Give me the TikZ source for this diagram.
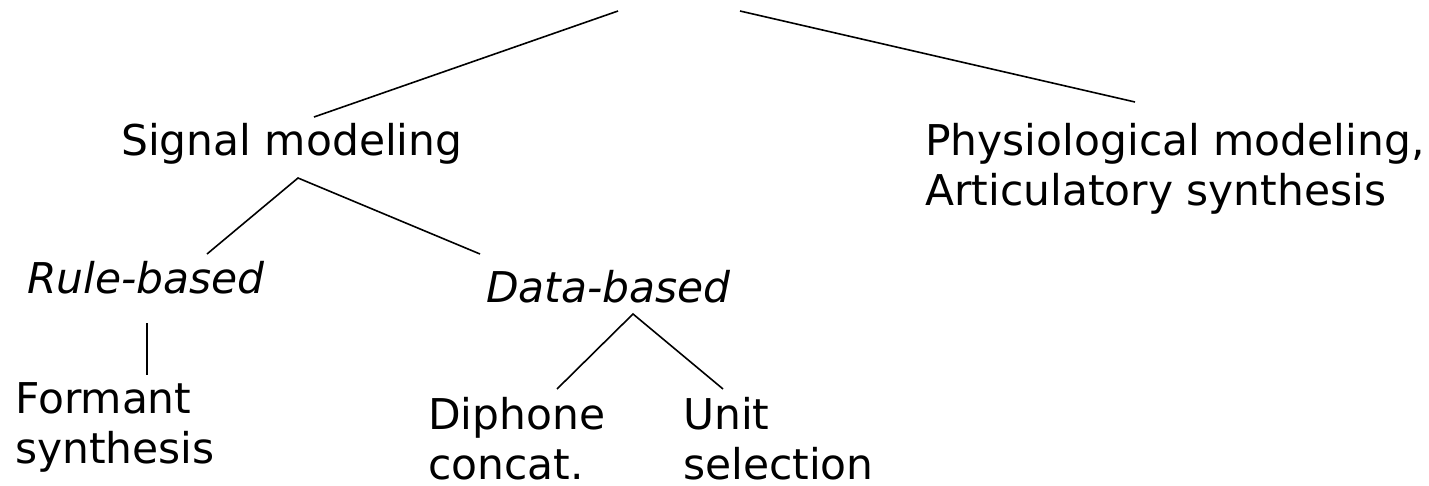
\documentclass[tikz,border=0pt]{standalone}
\usepackage{fontspec}
\setmainfont{DejaVu Sans}
\begin{document}
\begin{tikzpicture}[x=1pt,y=-1pt,
  lbl/.style={inner sep=0pt,anchor=base west,align=left,font=\fontsize{42.4}{50}\selectfont},
  ilbl/.style={lbl,font=\fontsize{42.4}{50}\selectfont\itshape},
  edge/.style={line width=1.6pt,black}]
\useasboundingbox (0,0) rectangle (1429,485);
\node[lbl] (sig) at (121,155) {Signal modeling};
\node[lbl] (phys) at (925,205) {Physiological modeling,\\Articulatory synthesis};
\node[ilbl] (rule) at (27,293) {Rule-based};
\node[ilbl] (data) at (486,302) {Data-based};
\node[lbl] (form) at (15,463) {Formant\\synthesis};
\node[lbl] (diph) at (428,479) {Diphone\\concat.};
\node[lbl] (unit) at (683,479) {Unit\\selection};
\coordinate (rootL) at (618,11);
\coordinate (rootR) at (740,11);
\coordinate (sigTop) at (314,117);
\coordinate (physTop) at (1135,102);
\coordinate (sigBot) at (298,178);
\coordinate (ruleTop) at (207,254);
\coordinate (dataTop) at (480,254);
\coordinate (ruleBot) at (147,323);
\coordinate (formTop) at (147,375);
\coordinate (dataBot) at (633,314);
\coordinate (diphTop) at (557,389);
\coordinate (unitTop) at (723,389);
\draw[edge] (rootL) -- (sigTop);
\draw[edge] (rootR) -- (physTop);
\draw[edge] (ruleTop) -- (sigBot) -- (dataTop);
\draw[edge] (ruleBot) -- (formTop);
\draw[edge] (diphTop) -- (dataBot) -- (unitTop);
\end{tikzpicture}
\end{document}
